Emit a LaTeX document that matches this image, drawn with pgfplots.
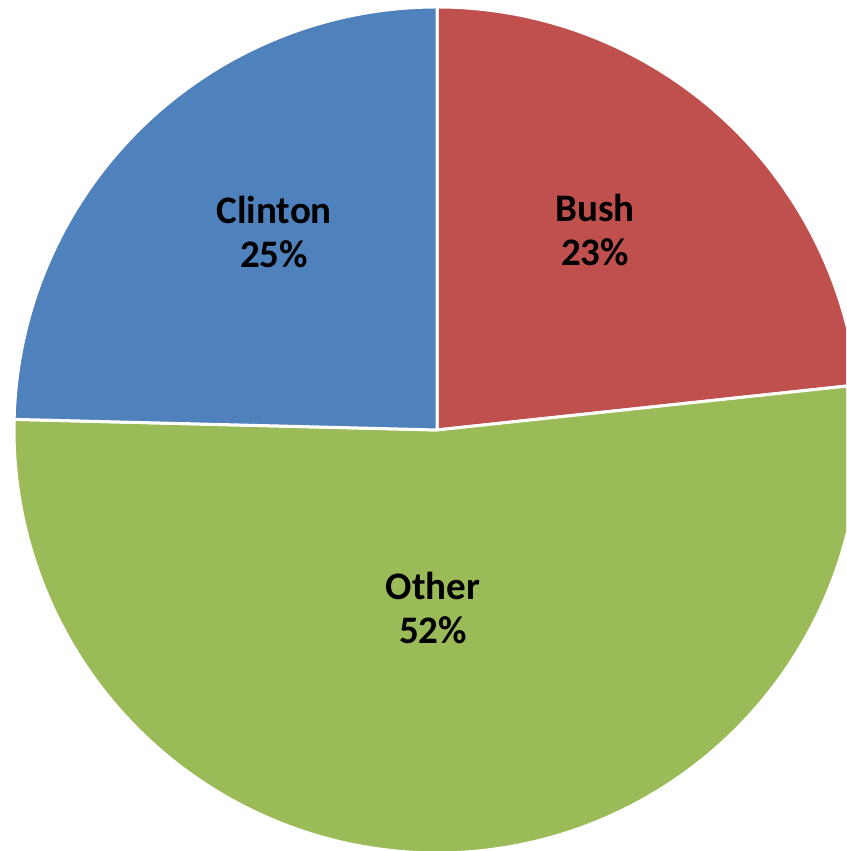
\documentclass[border=0pt]{standalone}
\usepackage{pgfplots}
\usepackage{pgfplotstable}
\usepackage{fontspec}
\setmainfont{Carlito}
\pgfplotsset{compat=1.18}
\definecolor{cBush}{HTML}{C0504D}
\definecolor{cOther}{HTML}{9BBB59}
\definecolor{cClinton}{HTML}{4F81BD}
\pgfplotstableread{
name    value
Bush    23.3
Other   52.1
Clinton 24.6
}\piedata
\pgfplotstablegetelem{0}{value}\of\piedata \let\vA\pgfplotsretval
\pgfplotstablegetelem{1}{value}\of\piedata \let\vB\pgfplotsretval
\pgfplotstablegetelem{2}{value}\of\piedata \let\vC\pgfplotsretval
\pgfmathsetmacro{\aA}{90-3.6*\vA}
\pgfmathsetmacro{\aB}{\aA-3.6*\vB}
\pgfmathsetmacro{\aC}{\aB-3.6*\vC}
\begin{document}
\begin{tikzpicture}
\begin{axis}[
  scale only axis, width=423pt, height=425.5pt,
  xmin=-1.0331, xmax=0.9669, ymin=-0.9953, ymax=1.0165,
  hide axis, clip=true,
]
\addplot[fill=cBush, draw=white, line width=1.5pt, line join=round, domain=\aA:90, samples=120] ({cos(x)},{sin(x)}) -- (axis cs:0,0) -- cycle;
\addplot[fill=cOther, draw=white, line width=1.5pt, line join=round, domain=\aB:\aA, samples=200] ({cos(x)},{sin(x)}) -- (axis cs:0,0) -- cycle;
\addplot[fill=cClinton, draw=white, line width=1.5pt, line join=round, domain=\aC:\aB, samples=120] ({cos(x)},{sin(x)}) -- (axis cs:0,0) -- cycle;
\node[align=center, font=\fontsize{19.5}{22}\selectfont\bfseries] at (axis cs:-0.385,0.468) {Clinton\\25\%};
\node[align=center, font=\fontsize{19.5}{22}\selectfont\bfseries] at (axis cs:0.3735,0.473) {Bush\\23\%};
\node[align=center, font=\fontsize{19.5}{22}\selectfont\bfseries] at (axis cs:-0.0095,-0.421) {Other\\52\%};
\coordinate (bl) at (rel axis cs:0,0);
\coordinate (tr) at (rel axis cs:1,1);
\end{axis}
\pgfresetboundingbox
\useasboundingbox (bl) rectangle (tr);
\end{tikzpicture}
\end{document}
